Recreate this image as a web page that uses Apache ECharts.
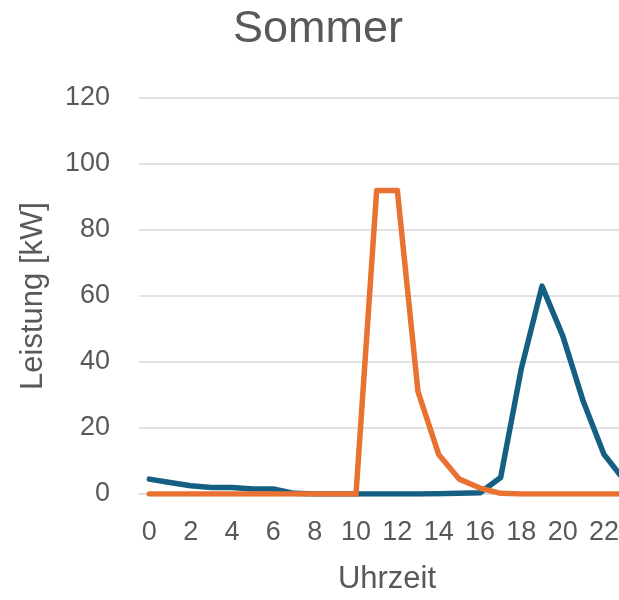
<!DOCTYPE html>
<html>
<head>
<meta charset="utf-8">
<script src="https://cdn.jsdelivr.net/npm/echarts@6/dist/echarts.min.js"></script>
<style>
  html, body { margin: 0; padding: 0; background: #ffffff; overflow: hidden; }
  /* the plot area runs past the right edge of the page, so hour 23 is cut off */
  #chart { width: 635px; height: 600px; }
</style>
</head>
<body>
<div id="chart"></div>
<script>
// Hours of the day (0..23)
const hours = ['0','1','2','3','4','5','6','7','8','9','10','11','12','13','14','15','16','17','18','19','20','21','22','23'];

// Power profiles in kW
const blueSeries = [4.5, 3.5, 2.5, 2, 2, 1.5, 1.5, 0.2, 0, 0, 0, 0, 0, 0, 0.1, 0.2, 0.4, 5, 38, 63, 48, 28, 12, 4];
const orangeSeries = [0, 0, 0, 0, 0, 0, 0, 0, 0, 0, 0, 92, 92, 31, 12, 4.5, 1.8, 0.2, 0, 0, 0, 0, 0, 0];

const yTicks = { min: 0, max: 120, interval: 20 };

const FONT = 'Liberation Sans';
const TEXT = '#595959';

const chart = echarts.init(document.getElementById('chart'), null, { renderer: 'canvas' });

chart.setOption({
  backgroundColor: '#ffffff',
  animation: false,
  title: {
    text: 'Sommer',
    left: 233,
    top: 7,
    padding: 0,
    textStyle: { fontFamily: FONT, fontSize: 45, fontWeight: 'normal', color: TEXT }
  },
  grid: { left: 139, right: 0, top: 98, bottom: 103, containLabel: false },
  xAxis: {
    type: 'category',
    data: hours,
    boundaryGap: true,
    name: 'Uhrzeit',
    nameLocation: 'middle',
    nameGap: 70,
    nameTextStyle: { fontFamily: FONT, fontSize: 31, color: TEXT },
    axisLine: { show: true, lineStyle: { color: '#d9d9d9', width: 1.5 } },
    axisTick: { show: false },
    axisLabel: {
      interval: 1,
      margin: 25,
      fontFamily: FONT,
      fontSize: 27,
      color: TEXT
    }
  },
  yAxis: {
    type: 'value',
    min: yTicks.min,
    max: yTicks.max,
    interval: yTicks.interval,
    name: 'Leistung [kW]',
    nameLocation: 'middle',
    nameGap: 90,
    nameTextStyle: { fontFamily: FONT, fontSize: 31, color: TEXT },
    axisLine: { show: false },
    axisTick: { show: false },
    splitLine: { lineStyle: { color: '#d9d9d9', width: 1.5 } },
    axisLabel: {
      margin: 29,
      fontFamily: FONT,
      fontSize: 27,
      color: TEXT
    }
  },
  series: [
    {
      name: 'Last',
      type: 'line',
      data: blueSeries,
      symbol: 'none',
      lineStyle: { color: '#156082', width: 5.5, join: 'round', cap: 'round' },
      z: 2
    },
    {
      name: 'PV',
      type: 'line',
      data: orangeSeries,
      symbol: 'none',
      lineStyle: { color: '#E97132', width: 5.5, join: 'round', cap: 'round' },
      z: 3
    }
  ]
});
</script>
</body>
</html>
